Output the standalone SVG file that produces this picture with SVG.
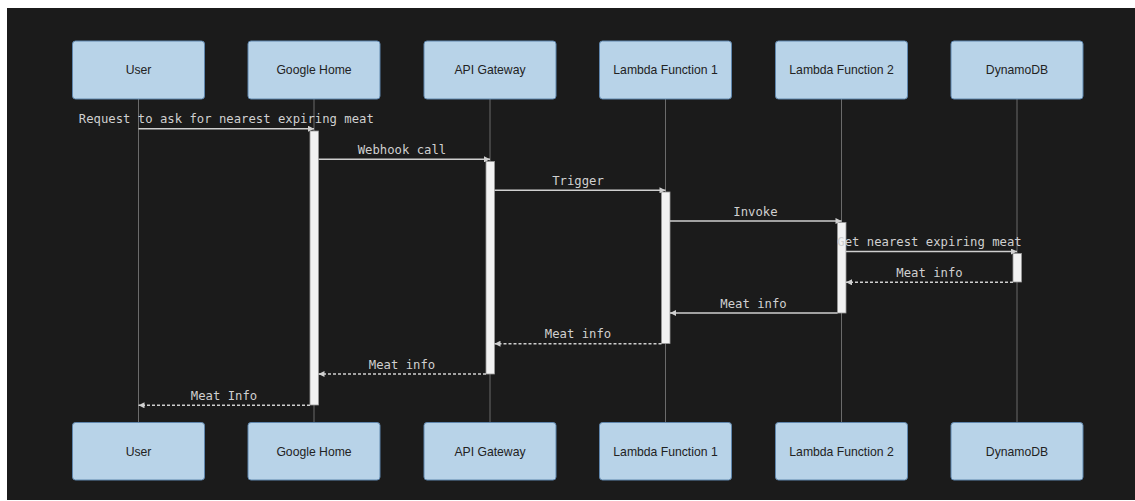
<svg xmlns="http://www.w3.org/2000/svg" width="1135" height="501" viewBox="0 0 1135 501">
<defs>
<style>
.node rect{fill:#b8d3e8;stroke:#5f86ad;stroke-width:1}
.node text{font-family:"Liberation Sans",Arial,sans-serif;font-size:12.2px;fill:#222;text-anchor:middle}
.life{stroke:#6b6b6b;stroke-width:1}
.act{fill:#f2f2f2;stroke:#9a9a9a;stroke-width:0.8}
.msg{stroke:#cfcfcf;stroke-width:1.4;fill:none}
.dash{stroke-dasharray:3,2}
.lbl{font-family:"DejaVu Sans Mono",monospace;font-size:12.25px;fill:#d0d0d0;text-anchor:middle}
</style>
<marker id="ah" viewBox="0 0 10 10" refX="10" refY="5" markerWidth="8" markerHeight="6" markerUnits="userSpaceOnUse" orient="auto">
<path d="M0,0 L10,5 L0,10 z" fill="#d0d0d0"/>
</marker>
</defs>
<rect x="0" y="0" width="1135" height="501" fill="#ffffff"/>
<rect x="7" y="8" width="1128" height="492" fill="#1b1b1b"/>
<g id="lifelines">
<line class="life" x1="138.5" y1="99" x2="138.5" y2="422"/>
<line class="life" x1="314" y1="99" x2="314" y2="422"/>
<line class="life" x1="490" y1="99" x2="490" y2="422"/>
<line class="life" x1="665.5" y1="99" x2="665.5" y2="422"/>
<line class="life" x1="841.5" y1="99" x2="841.5" y2="422"/>
<line class="life" x1="1017" y1="99" x2="1017" y2="422"/>
</g>
<g id="activations">
<rect class="act" x="310" y="131" width="8.5" height="274"/>
<rect class="act" x="486" y="161.5" width="8.5" height="212.5"/>
<rect class="act" x="661.5" y="192" width="8.5" height="151.5"/>
<rect class="act" x="837.5" y="222.5" width="8.5" height="90.5"/>
<rect class="act" x="1013" y="253.5" width="8.5" height="28.5"/>
</g>
<g id="node-user-top" class="node"><rect x="72.5" y="41" width="132" height="58" rx="3"/><text x="138.5" y="74">User</text></g>
<g id="node-google-top" class="node"><rect x="248" y="41" width="132" height="58" rx="3"/><text x="314" y="74">Google Home</text></g>
<g id="node-api-top" class="node"><rect x="424" y="41" width="132" height="58" rx="3"/><text x="490" y="74">API Gateway</text></g>
<g id="node-l1-top" class="node"><rect x="599.5" y="41" width="132" height="58" rx="3"/><text x="665.5" y="74">Lambda Function 1</text></g>
<g id="node-l2-top" class="node"><rect x="775.5" y="41" width="132" height="58" rx="3"/><text x="841.5" y="74">Lambda Function 2</text></g>
<g id="node-ddb-top" class="node"><rect x="951" y="41" width="132" height="58" rx="3"/><text x="1017" y="74">DynamoDB</text></g>
<g id="node-user-bottom" class="node"><rect x="72.5" y="422.5" width="132" height="57.5" rx="3"/><text x="138.5" y="455.5">User</text></g>
<g id="node-google-bottom" class="node"><rect x="248" y="422.5" width="132" height="57.5" rx="3"/><text x="314" y="455.5">Google Home</text></g>
<g id="node-api-bottom" class="node"><rect x="424" y="422.5" width="132" height="57.5" rx="3"/><text x="490" y="455.5">API Gateway</text></g>
<g id="node-l1-bottom" class="node"><rect x="599.5" y="422.5" width="132" height="57.5" rx="3"/><text x="665.5" y="455.5">Lambda Function 1</text></g>
<g id="node-l2-bottom" class="node"><rect x="775.5" y="422.5" width="132" height="57.5" rx="3"/><text x="841.5" y="455.5">Lambda Function 2</text></g>
<g id="node-ddb-bottom" class="node"><rect x="951" y="422.5" width="132" height="57.5" rx="3"/><text x="1017" y="455.5">DynamoDB</text></g>
<g id="connectors">
<line class="msg" x1="138.5" y1="128.7" x2="314" y2="128.7" marker-end="url(#ah)"/>
<line class="msg" x1="318.5" y1="159.3" x2="490" y2="159.3" marker-end="url(#ah)"/>
<line class="msg" x1="494.5" y1="190.3" x2="665.5" y2="190.3" marker-end="url(#ah)"/>
<line class="msg" x1="670" y1="221" x2="841.5" y2="221" marker-end="url(#ah)"/>
<line class="msg" x1="846" y1="251.5" x2="1017" y2="251.5" marker-end="url(#ah)"/>
<line class="msg dash" x1="1013" y1="282.3" x2="846" y2="282.3" marker-end="url(#ah)"/>
<line class="msg" x1="837.5" y1="313" x2="670" y2="313" marker-end="url(#ah)"/>
<line class="msg dash" x1="661.5" y1="343.7" x2="494.5" y2="343.7" marker-end="url(#ah)"/>
<line class="msg dash" x1="486" y1="374" x2="318.5" y2="374" marker-end="url(#ah)"/>
<line class="msg dash" x1="310" y1="405.3" x2="138.5" y2="405.3" marker-end="url(#ah)"/>
</g>
<g id="labels">
<text class="lbl" x="226.3" y="123.3">Request to ask for nearest expiring meat</text>
<text class="lbl" x="402" y="154">Webhook call</text>
<text class="lbl" x="578" y="185">Trigger</text>
<text class="lbl" x="755.5" y="215.7">Invoke</text>
<text class="lbl" x="929.5" y="246.2">Get nearest expiring meat</text>
<text class="lbl" x="929.5" y="277">Meat info</text>
<text class="lbl" x="753.5" y="307.7">Meat info</text>
<text class="lbl" x="578" y="338.4">Meat info</text>
<text class="lbl" x="402" y="368.7">Meat info</text>
<text class="lbl" x="224" y="400">Meat Info</text>
</g>
</svg>
